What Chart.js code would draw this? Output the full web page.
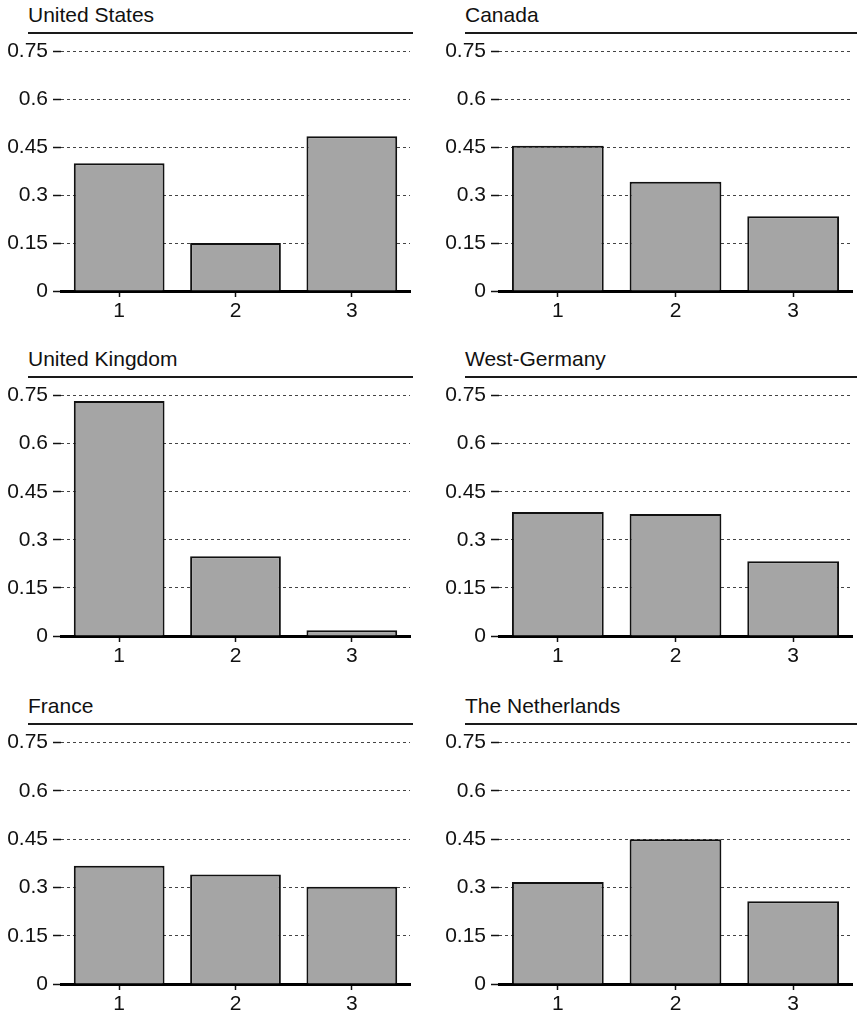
<!DOCTYPE html>
<html>
<head>
<meta charset="utf-8">
<script src="https://cdn.jsdelivr.net/npm/chart.js@4/dist/chart.umd.min.js"></script>
<style>
  html, body { margin: 0; padding: 0; background: #fff; overflow: hidden; }
  body { width: 857px; height: 1015px; position: relative; font-family: "Liberation Sans", Arial, sans-serif; }
  .titre { position: absolute; font-size: 21px; line-height: 24px; height: 24px; padding-bottom: 5px;
           border-bottom: 2px solid #1a1a1a; color: #111; white-space: nowrap; }
  canvas { position: absolute; }
</style>
</head>
<body>
<script>
// Données
const categories = ['1', '2', '3'];
const countries = ['United States', 'Canada', 'United Kingdom', 'West-Germany', 'France', 'The Netherlands'];
const usValues = [0.40, 0.15, 0.485];
const canadaValues = [0.455, 0.342, 0.234];
const ukValues = [0.733, 0.249, 0.018];
const wgValues = [0.387, 0.381, 0.233];
const franceValues = [0.367, 0.340, 0.302];
const nlValues = [0.317, 0.450, 0.257];
const yTicks = ['0', '0.15', '0.3', '0.45', '0.6', '0.75'];

const allValues = [usValues, canadaValues, ukValues, wgValues, franceValues, nlValues];

// Mise en page (colonnes / rangées)
const colLeft = [0, 430];
const colWidth = [430, 427];
const colAxis = [61, 69];      // largeur de l'axe Y
const colPadRight = [20, 5];
const colTitleX = [28, 465];
const colTitleW = [385, 392];
const rowLine = [34, 378, 725];  // ligne sous le titre
const rowTop = [51, 394, 742];   // position de 0.75
const rowZero = [291, 636, 984]; // position de 0

const police = '"Liberation Sans", Arial, sans-serif';

function makePanel(index) {
    const col = index % 2;
    const row = Math.floor(index / 2);

    //Titre
    const titre = document.createElement('div');
    titre.className = 'titre';
    titre.textContent = countries[index];
    titre.style.left = colTitleX[col] + 'px';
    titre.style.width = colTitleW[col] + 'px';
    titre.style.top = (rowLine[row] - 31) + 'px';
    document.body.appendChild(titre);

    //Canvas
    const canvas = document.createElement('canvas');
    const h = rowZero[row] - rowLine[row] + 30;
    canvas.width = colWidth[col];
    canvas.height = h;
    canvas.style.left = colLeft[col] + 'px';
    canvas.style.top = rowLine[row] + 'px';
    document.body.appendChild(canvas);

    new Chart(canvas, {
        type: 'bar',
        data: {
            labels: categories,
            datasets: [{
                data: allValues[index],
                backgroundColor: '#a5a5a5',
                borderColor: '#111',
                borderWidth: 2,
                borderSkipped: 'bottom',
                barPercentage: 0.78,
                categoryPercentage: 1
            }]
        },
        options: {
            responsive: false,
            animation: false,
            layout: {
                padding: { top: rowTop[row] - rowLine[row], right: colPadRight[col], bottom: 0, left: 0 }
            },
            plugins: {
                legend: { display: false },
                tooltip: { enabled: false }
            },
            scales: {
                x: {
                    afterFit: s => { s.height = 30; },
                    grid: {
                        offset: false,
                        drawOnChartArea: false,
                        drawTicks: true,
                        tickLength: 6,
                        color: '#111',
                        tickWidth: 1.5
                    },
                    border: { display: true, color: '#000', width: 3 },
                    ticks: {
                        color: '#111',
                        padding: 2,
                        font: { family: police, size: 21 }
                    }
                },
                y: {
                    min: 0,
                    max: 0.75,
                    afterFit: s => { s.width = colAxis[col]; },
                    afterBuildTicks: s => { s.ticks = yTicks.map(t => ({ value: Number(t) })); },
                    grid: {
                        color: '#444',
                        lineWidth: 1,
                        tickLength: 8,
                        tickColor: '#111',
                        tickWidth: 1.5
                    },
                    border: { display: false, dash: [3, 3] },
                    ticks: {
                        color: '#111',
                        padding: 5,
                        font: { family: police, size: 21 },
                        callback: (v, i) => yTicks[i]
                    }
                }
            }
        }
    });
}

document.addEventListener("DOMContentLoaded", () => {
    for (let i = 0; i < countries.length; i++) {
        makePanel(i);
    }
});
</script>
</body>
</html>
